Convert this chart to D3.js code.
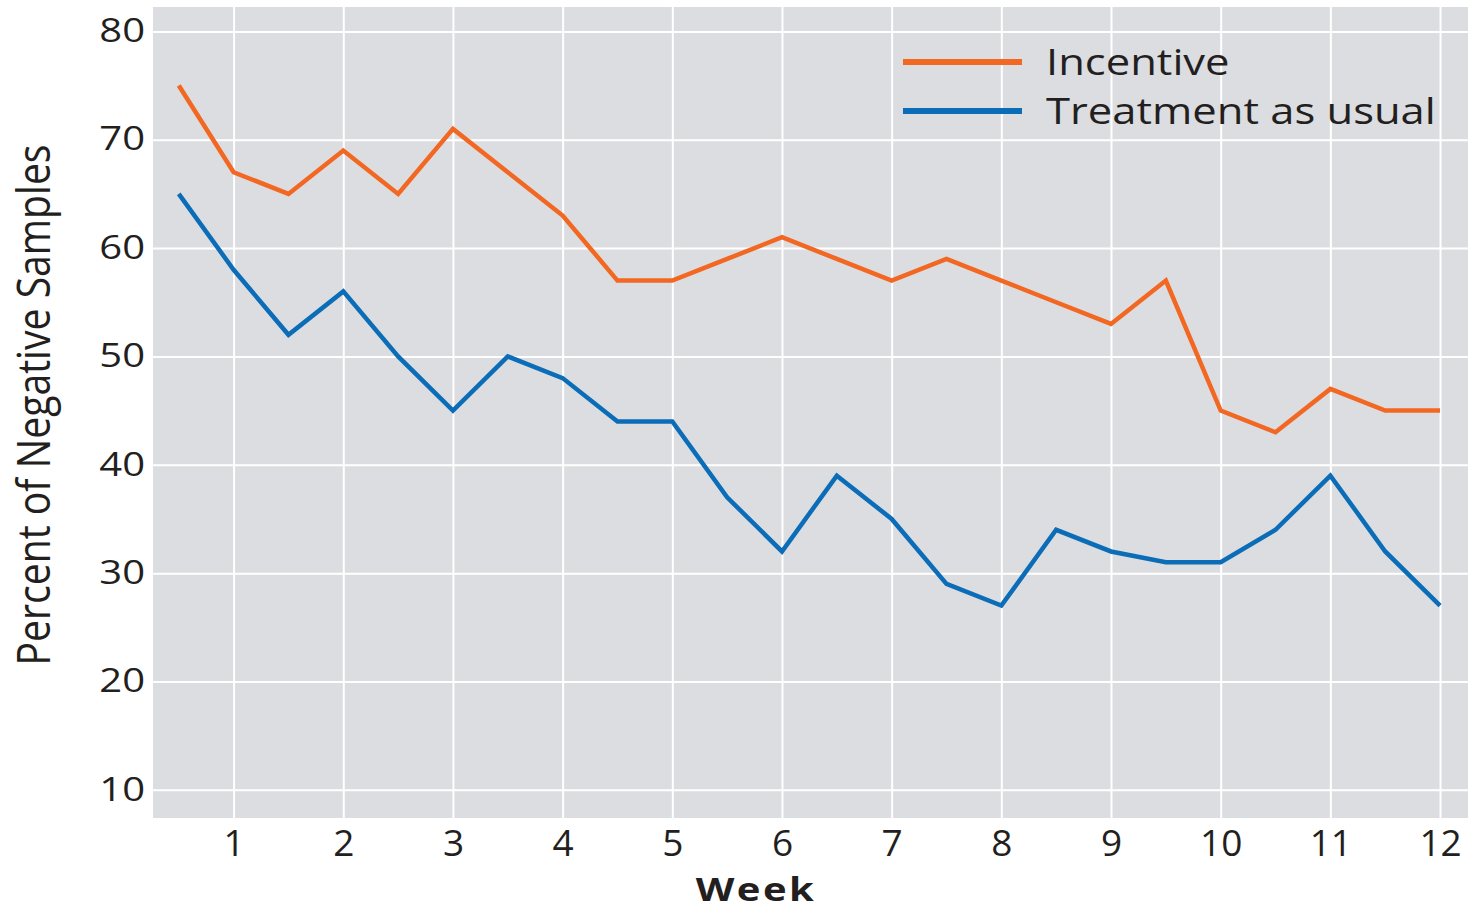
<!DOCTYPE html>
<html>
<head>
<meta charset="utf-8">
<script src="https://cdn.jsdelivr.net/npm/d3@7"></script>
<style>
  body { margin: 0; background: #ffffff; }
  svg { display: block; }
</style>
</head>
<body>
<div id="chart"></div>
<script>
// weeks are sampled every half week
var weeks = [0.5, 1, 1.5, 2, 2.5, 3, 3.5, 4, 4.5, 5, 5.5, 6,
             6.5, 7, 7.5, 8, 8.5, 9, 9.5, 10, 10.5, 11, 11.5, 12];
var incentive = [75, 67, 65, 69, 65, 71, 67, 63, 57, 57, 59, 61,
                 59, 57, 59, 57, 55, 53, 57, 45, 43, 47, 45, 45];
var treatmentAsUsual = [65, 58, 52, 56, 50, 45, 50, 48, 44, 44, 37, 32,
                        39, 35, 29, 27, 34, 32, 31, 31, 34, 39, 32, 27];
var xTicks = [1, 2, 3, 4, 5, 6, 7, 8, 9, 10, 11, 12];
var yTicks = [10, 20, 30, 40, 50, 60, 70, 80];
var seriesNames = ["Incentive", "Treatment as usual"];
var seriesColors = ["#f26722", "#0b6db7"];

var width = 1474, height = 911;
var margin = {top: 7, right: 6, bottom: 93, left: 153};
var w = width - margin.left - margin.right;
var h = height - margin.top - margin.bottom;
var fontFamily = "'Open Sans', 'Noto Sans', sans-serif";
var textColor = "#231f20";

var svg = d3.select("#chart").append("svg")
    .attr("width", width)
    .attr("height", height);

var g = svg.append("g")
    .attr("transform", "translate(" + margin.left + "," + margin.top + ")");

var x = d3.scaleLinear().domain([0.265, 12.255]).range([0, w]);
var y = d3.scaleLinear().domain([7.4, 82.25]).range([h, 0]);

// grey plot area
g.append("rect")
    .attr("width", w)
    .attr("height", h)
    .attr("fill", "#dcdde0");

// Gridlines come from the axes themselves
var xAxis = g.append("g")
    .attr("transform", "translate(0," + h + ")")
    .call(d3.axisBottom(x).tickValues(xTicks).tickSize(-h).tickPadding(12).tickFormat(d3.format("d")));

var yAxis = g.append("g")
    .call(d3.axisLeft(y).tickValues(yTicks).tickSize(-w).tickPadding(8).tickFormat(d3.format("d")));

[xAxis, yAxis].forEach(function (axis) {
    axis.select(".domain").remove();
    axis.selectAll(".tick line")
        .attr("stroke", "#ffffff")
        .attr("stroke-width", 2);
    axis.selectAll("text")
        .attr("fill", textColor)
        .style("font-family", fontFamily);
});
xAxis.selectAll("text").style("font-size", "37px");

// y labels in the original are drawn wider than they are tall
var yStretch = 1.25;
yAxis.selectAll("text")
    .style("font-size", "32px")
    .attr("x", -8 / yStretch)
    .attr("transform", "scale(" + yStretch + ",1)");

var line = d3.line()
    .x(function (d) { return x(d[0]); })
    .y(function (d) { return y(d[1]); });

[incentive, treatmentAsUsual].forEach(function (values, i) {
    g.append("path")
        .datum(d3.zip(weeks, values))
        .attr("fill", "none")
        .attr("stroke", seriesColors[i])
        .attr("stroke-width", 4.5)
        .attr("stroke-linejoin", "miter")
        .attr("d", line);
});

// Legend
var legend = svg.append("g")
    .attr("transform", "translate(903,62)");

seriesNames.forEach(function (name, i) {
    var row = legend.append("g")
        .attr("transform", "translate(0," + (i * 49) + ")");
    row.append("line")
        .attr("x1", 0).attr("x2", 119)
        .attr("stroke", seriesColors[i])
        .attr("stroke-width", 6);
    row.append("g")
        .attr("transform", "translate(143,12.5) scale(1.21,1)")
        .append("text")
        .attr("fill", textColor)
        .style("font-family", fontFamily)
        .style("font-size", "36px")
        .text(name);
});

// Axis titles
svg.append("g")
    .attr("transform", "translate(756,901) scale(1.25,1)")
    .append("text")
    .attr("text-anchor", "middle")
    .attr("fill", textColor)
    .style("font-family", fontFamily)
    .style("font-weight", "bold")
    .style("font-size", "32px")
    .style("letter-spacing", "2px")
    .text("Week");

svg.append("g")
    .attr("transform", "translate(50,405) rotate(-90) scale(0.87,1)")
    .append("text")
    .attr("text-anchor", "middle")
    .attr("fill", textColor)
    .style("font-family", fontFamily)
    .style("font-size", "45px")
    .text("Percent of Negative Samples");
</script>
</body>
</html>
